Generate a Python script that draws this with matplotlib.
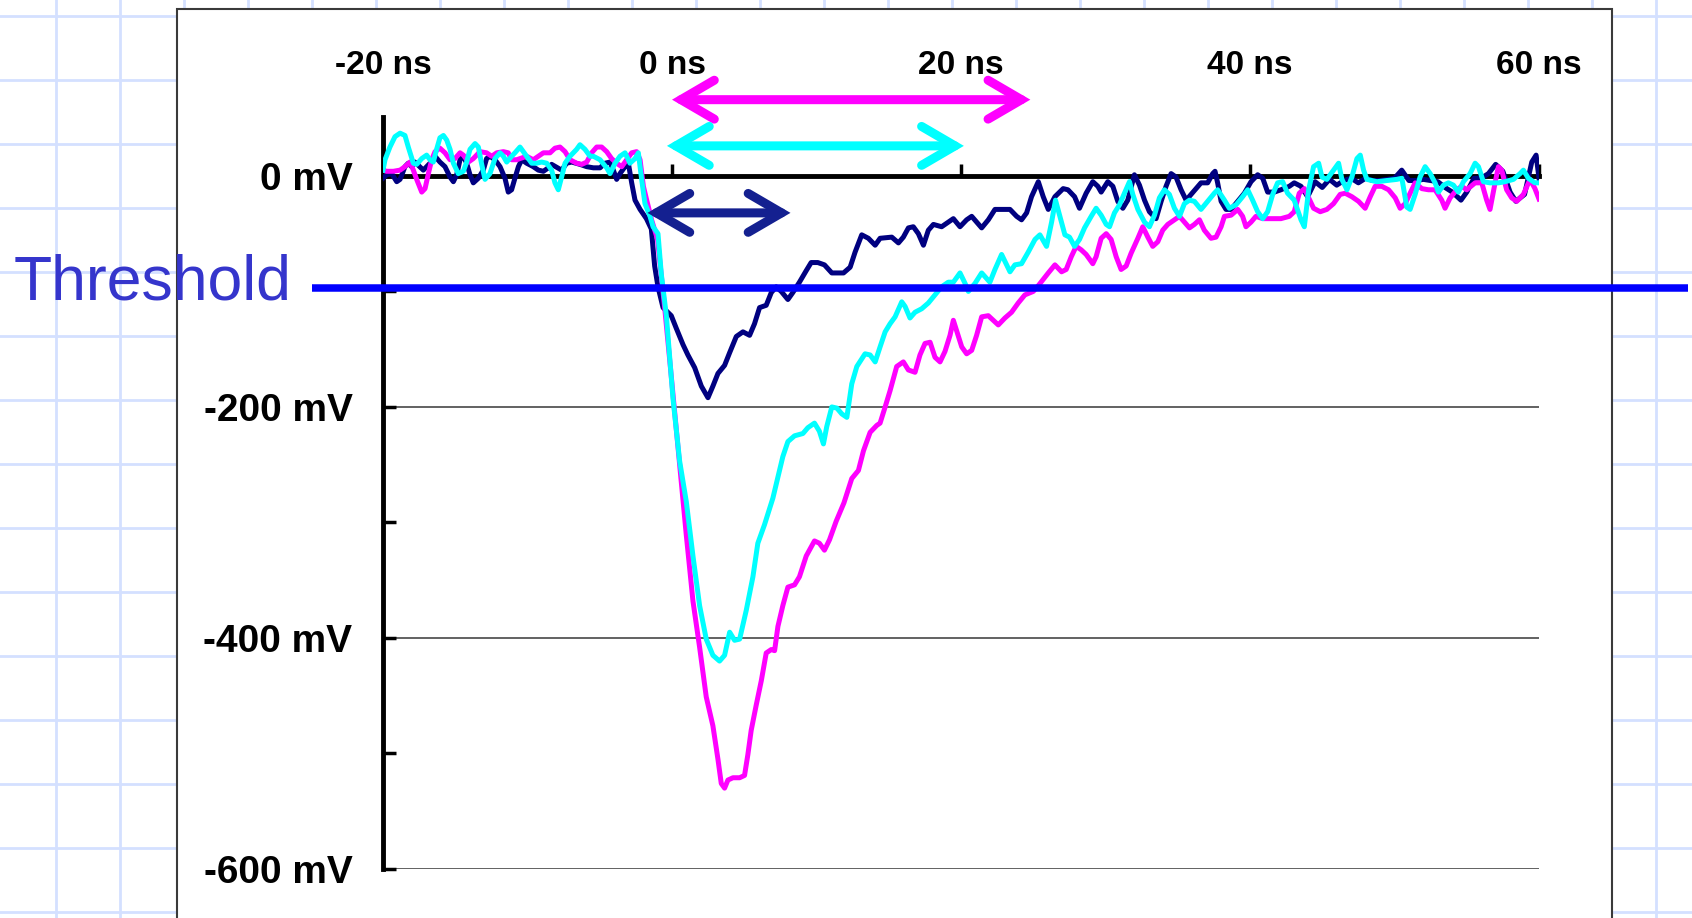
import matplotlib
matplotlib.use("Agg")
import matplotlib.pyplot as plt
from matplotlib.patches import Rectangle
import numpy as np

plt.rcParams["font.family"] = ["Liberation Sans", "DejaVu Sans"]

# ---- data (time in ns, amplitude in mV) ----
t_navy = [-20.0, -19.75, -19.4, -19.05, -18.82, -18.48, -18.25, -18.02, -17.79, -17.21,
          -16.75, -16.4, -16.06, -15.71, -15.36, -15.13, -14.9, -14.67, -14.44, -14.21,
          -13.98, -13.75, -13.4, -13.06, -12.83, -12.6, -12.25, -11.9, -11.56, -11.33,
          -11.1, -10.87, -10.63, -10.4, -10.06, -9.6, -9.25, -8.9, -8.56, -8.33,
          -7.64, -7.29, -6.94, -6.37, -5.9, -5.44, -4.98, -4.64, -4.29, -4.06,
          -3.83, -3.6, -3.25, -3.02, -2.79, -2.56, -2.21, -1.77, -1.43, -1.2,
          -0.97, -0.62, -0.05, 0.3, 0.76, 1.1, 1.57, 2.03, 2.49, 2.83,
          3.18, 3.64, 3.99, 4.45, 4.91, 5.37, 5.71, 6.06, 6.52, 6.87,
          7.21, 7.56, 8.02, 8.36, 8.82, 9.29, 9.63, 10.09, 10.55, 11.06,
          11.87, 12.33, 12.67, 13.13, 13.59, 14.06, 14.4, 15.21, 15.67, 16.01,
          16.36, 16.7, 17.05, 17.4, 17.74, 18.09, 18.66, 19.12, 19.47, 19.93,
          20.39, 20.74, 21.08, 21.43, 21.89, 22.35, 22.93, 23.39, 23.85, 24.19,
          24.54, 24.88, 25.35, 25.69, 26.04, 26.5, 27.07, 27.4, 27.86, 28.2,
          28.66, 29.12, 29.47, 29.7, 30.16, 30.51, 30.85, 31.2, 31.54, 32.0,
          32.35, 32.7, 33.04, 33.5, 33.85, 34.19, 34.54, 34.88, 35.23, 35.58,
          35.92, 36.27, 36.61, 37.07, 37.42, 37.58, 37.76, 38.0, 38.34, 38.69,
          39.15, 39.61, 40.07, 40.53, 40.88, 41.22, 41.68, 42.14, 42.72, 43.06,
          43.53, 43.99, 44.5, 45.0, 45.5, 46.0, 46.5, 47.0, 47.5, 48.0,
          48.5, 49.0, 49.5, 50.0, 50.5, 51.0, 51.5, 52.0, 52.5, 53.0,
          53.5, 54.0, 54.6, 55.0, 55.5, 56.0, 56.5, 57.0, 57.5, 58.0,
          58.4, 59.0, 59.5, 59.8, 60.0]
v_navy = [-2, 1, 2, -5, -3, 8, 11, 8, 12, 5,
          11, 17, 12, 8, -1, -5, 1, 14, 17, 11,
          1, -6, -2, 5, 15, 17, 14, 8, -2, -14,
          -12, -2, 8, 14, 11, 8, 5, 4, 7, 10,
          5, 11, 12, 10, 8, 7, 7, 11, 12, 5,
          -3, 2, 8, 11, -6, -21, -29, -37, -46, -78,
          -96, -114, -121, -132, -146, -155, -166, -182, -192, -182,
          -171, -164, -153, -139, -135, -138, -128, -114, -112, -101,
          -96, -100, -107, -101, -92, -82, -75, -75, -77, -84,
          -84, -79, -66, -51, -54, -60, -54, -53, -58, -53,
          -45, -44, -50, -60, -47, -42, -44, -40, -37, -44,
          -38, -35, -40, -45, -38, -29, -29, -29, -35, -38,
          -32, -18, -5, -18, -29, -18, -11, -12, -18, -28,
          -15, -5, -9, -14, -5, -9, -22, -28, -21, 1,
          -8, -21, -31, -37, -22, -9, 2, -1, -12, -21,
          -16, -11, -6, -6, 2, 4, -6, -22, -29, -29,
          -22, -15, -5, 1, -2, -14, -14, -12, -9, -6,
          -9, -18, -5, -10, -3, -8, -4, -2, -6, -2,
          -4, -4, -3, -2, 5, -4, -4, -3, -4, -5,
          -10, -14, -21, -14, -2, -2, 2, 10, 4, -14,
          -22, -16, 12, 18, -2]

t_magenta = [-20.0, -19.75, -19.28, -18.82, -18.48, -18.13, -17.9, -17.67, -17.32, -17.09,
             -16.86, -16.63, -16.4, -16.06, -15.71, -15.36, -15.02, -14.67, -14.44, -14.09,
             -13.75, -13.29, -12.83, -12.48, -12.13, -11.67, -11.33, -11.1, -10.75, -10.52,
             -10.06, -9.6, -9.25, -8.9, -8.44, -8.1, -7.75, -7.4, -7.06, -6.6,
             -6.25, -5.9, -5.56, -5.21, -4.87, -4.52, -4.18, -3.83, -3.48, -3.14,
             -2.79, -2.45, -2.21, -1.98, -1.75, -1.41, -1.0, -0.5, 0.0, 0.53,
             0.99, 1.45, 1.91, 2.37, 2.83, 3.18, 3.41, 3.64, 3.87, 4.22,
             4.68, 5.02, 5.25, 5.48, 5.83, 6.18, 6.52, 6.87, 7.1, 7.33,
             7.67, 8.02, 8.48, 8.82, 9.29, 9.86, 10.2, 10.55, 10.9, 11.36,
             11.9, 12.44, 12.9, 13.25, 13.71, 14.17, 14.4, 14.75, 15.09, 15.55,
             16.01, 16.36, 16.82, 17.16, 17.51, 17.86, 18.2, 18.55, 18.89, 19.24,
             19.47, 19.7, 20.05, 20.39, 20.74, 21.08, 21.43, 21.89, 22.58, 23.04,
             23.5, 23.96, 24.42, 25.0, 25.35, 26.04, 26.5, 26.96, 27.28, 27.63,
             27.97, 28.32, 28.66, 29.12, 29.35, 29.7, 30.05, 30.39, 30.74, 31.08,
             31.43, 31.77, 32.24, 32.58, 32.93, 33.27, 33.62, 33.96, 34.31, 34.77,
             35.12, 35.46, 35.81, 36.15, 36.5, 36.84, 37.3, 37.65, 38.0, 38.23,
             38.69, 39.15, 39.49, 39.72, 40.07, 40.41, 40.88, 41.45, 42.14, 42.72,
             43.06, 43.41, 43.76, 44.4, 44.86, 45.32, 45.78, 46.24, 46.59, 47.05,
             47.51, 47.97, 48.32, 48.66, 49.12, 49.59, 50.05, 50.39, 50.74, 51.08,
             51.43, 51.89, 52.35, 52.81, 53.27, 53.5, 53.85, 54.31, 54.65, 55.0,
             55.58, 56.04, 56.38, 56.61, 56.96, 57.19, 57.42, 57.76, 58.11, 58.46,
             58.92, 59.38, 59.72, 60.0]
v_magenta = [5, 4, 4, 5, 8, 12, 5, -3, -14, -11,
             2, 14, 21, 24, 20, 14, 15, 20, 18, 12,
             15, 21, 20, 17, 20, 21, 20, 14, 14, 15,
             17, 14, 17, 20, 20, 24, 25, 21, 14, 11,
             10, 12, 20, 25, 25, 21, 15, 11, 8, 14,
             20, 21, 14, -9, -21, -38, -55, -115, -180, -250,
             -311, -368, -408, -451, -476, -505, -526, -530, -523, -521,
             -521, -519, -501, -480, -458, -437, -413, -410, -411, -390,
             -372, -356, -354, -347, -329, -316, -318, -324, -315, -299,
             -283, -262, -255, -238, -222, -216, -214, -200, -186, -165,
             -161, -168, -170, -155, -145, -144, -157, -161, -152, -138,
             -125, -134, -148, -154, -151, -138, -122, -121, -129, -123,
             -118, -110, -103, -100, -95, -84, -77, -83, -81, -70,
             -61, -64, -68, -76, -70, -54, -50, -55, -70, -81,
             -78, -67, -54, -44, -53, -61, -57, -47, -42, -38,
             -35, -40, -45, -42, -38, -47, -54, -53, -44, -35,
             -34, -29, -35, -44, -40, -35, -37, -37, -37, -35,
             -31, -15, -11, -28, -31, -29, -24, -16, -15, -18,
             -22, -28, -18, -9, -9, -12, -19, -28, -24, -15,
             -6, -11, -12, -12, -21, -28, -19, -12, -9, -12,
             -6, -6, -21, -29, -6, 8, 5, -12, -19, -22,
             -16, -3, -11, -20]

t_cyan = [-20.0, -19.86, -19.52, -19.17, -18.82, -18.48, -18.25, -17.9, -17.67, -17.32,
          -16.98, -16.75, -16.52, -16.29, -16.06, -15.82, -15.59, -15.36, -15.13, -14.79,
          -14.44, -14.21, -13.98, -13.63, -13.4, -13.17, -12.94, -12.6, -12.25, -11.9,
          -11.67, -11.44, -11.1, -10.87, -10.52, -10.29, -10.06, -9.71, -9.37, -9.02,
          -8.67, -8.33, -8.1, -7.87, -7.64, -7.4, -7.06, -6.6, -6.37, -6.02,
          -5.67, -5.44, -4.98, -4.52, -4.29, -3.94, -3.6, -3.25, -2.91, -2.56,
          -2.33, -2.1, -1.87, -1.52, -1.31, -0.97, -0.74, -0.39, 0.07, 0.53,
          0.99, 1.45, 1.91, 2.37, 2.83, 3.29, 3.64, 3.99, 4.33, 4.68,
          5.14, 5.6, 5.94, 6.4, 6.98, 7.67, 8.02, 8.48, 9.06, 9.4,
          9.86, 10.2, 10.48, 10.71, 11.06, 11.41, 11.75, 12.1, 12.44, 12.79,
          13.36, 13.71, 14.06, 14.4, 14.75, 15.09, 15.44, 15.9, 16.13, 16.47,
          16.82, 17.28, 17.74, 18.2, 18.66, 19.12, 19.47, 19.93, 20.28, 20.51,
          20.97, 21.43, 22.0, 22.35, 22.81, 23.16, 23.39, 23.73, 24.19, 24.65,
          25.12, 25.46, 25.92, 26.27, 26.54, 26.84, 27.19, 27.51, 27.86, 28.2,
          28.55, 29.01, 29.35, 29.7, 30.05, 30.28, 30.62, 30.97, 31.31, 31.66,
          31.89, 32.24, 32.7, 33.04, 33.39, 33.73, 34.08, 34.42, 34.77, 35.12,
          35.46, 35.81, 36.15, 36.61, 37.07, 37.53, 37.76, 38.23, 38.57, 39.03,
          39.49, 39.84, 40.18, 40.53, 40.88, 41.22, 41.57, 41.91, 42.26, 42.6,
          43.06, 43.53, 43.76, 44.06, 44.4, 44.75, 44.98, 45.32, 45.78, 46.13,
          46.36, 46.71, 47.05, 47.4, 47.63, 47.86, 48.09, 48.78, 50.16, 50.51,
          50.85, 51.08, 51.43, 51.77, 52.12, 52.47, 52.81, 53.04, 53.39, 53.73,
          54.08, 54.42, 54.77, 55.23, 55.58, 55.81, 56.15, 56.61, 57.19, 57.65,
          58.23, 58.69, 58.92, 59.26, 59.72, 60.0]
v_cyan = [5, 14, 25, 34, 37, 35, 25, 11, 10, 15,
          18, 14, 12, 23, 33, 35, 31, 23, 11, 2,
          4, 12, 23, 28, 25, 10, -3, 2, 15, 20,
          17, 12, 17, 20, 25, 21, 17, 11, 11, 12,
          11, 5, -6, -12, -1, 11, 17, 23, 27, 23,
          17, 17, 14, 7, 2, 11, 17, 20, 11, 15,
          20, -3, -24, -35, -44, -50, -85, -121, -193, -247,
          -282, -329, -372, -401, -415, -420, -415, -395, -402, -401,
          -376, -347, -318, -302, -279, -243, -230, -225, -223, -218,
          -214, -221, -232, -217, -200, -201, -206, -209, -180, -165,
          -154, -155, -161, -148, -135, -128, -122, -109, -113, -123,
          -118, -115, -110, -103, -96, -92, -92, -84, -93, -100,
          -93, -84, -92, -81, -68, -77, -83, -77, -76, -66,
          -55, -51, -61, -40, -21, -35, -51, -53, -61, -55,
          -45, -35, -28, -34, -42, -44, -32, -25, -15, -5,
          -16, -29, -40, -44, -34, -19, -12, -16, -28, -35,
          -24, -21, -22, -29, -22, -15, -12, -21, -28, -25,
          -18, -12, -21, -31, -37, -31, -16, -6, -5, -15,
          -21, -38, -44, -12, 8, 11, -1, -3, 5, 11,
          -3, -12, -1, 15, 18, 5, -3, -5, -3, -2,
          -27, -29, -16, -1, 8, 2, -6, -14, -8, -6,
          -8, -14, -5, 2, 11, 8, -5, -6, -6, -5,
          -3, 2, 5, -2, -6, -6]

xticks = [-20, 0, 20, 40, 60]
xtick_labels = ["-20 ns", "0 ns", "20 ns", "40 ns", "60 ns"]
yticks = [0, -200, -400, -600]
ytick_labels = ["0 mV", "-200 mV", "-400 mV", "-600 mV"]
yticks_minor = [-100, -300, -500]
threshold = -97

# double arrows: (start ns, end ns, level mV)
arrow_magenta = (0.0, 24.8, 66)
arrow_cyan = (-0.35, 20.2, 26)
arrow_navy = (-1.7, 8.2, -32)

W, H = 1692, 918
fig = plt.figure(figsize=(W / 100, H / 100), dpi=100)

# slide background: light blue grid paper with a white panel on top
bg = fig.add_axes([0, 0, 1, 1], zorder=0)
bg.set_xlim(0, W)
bg.set_ylim(H, 0)
bg.axis("off")
for gx in np.arange(56, W, 64):
    bg.axvline(gx, color="#d4e0ff", lw=2, zorder=1)
for gy in np.arange(16, H, 64):
    bg.axhline(gy, color="#d4e0ff", lw=2, zorder=1)
bg.add_patch(Rectangle((177, 9), 1435, 960, facecolor="white",
                       edgecolor="#3a3a3a", lw=1.5, zorder=3))

# plot area in pixels: x -20..60 ns -> 383..1539, y +51..-600 mV -> 117..869
ax = fig.add_axes([383 / W, 1 - 869 / H, (1539 - 383) / W, (869 - 117) / H], zorder=1)
ax.patch.set_alpha(0)
ax.set_xlim(-20, 60)
ax.set_ylim(-600, 51)

ax.plot(t_navy, v_navy, color="#000080", lw=3.6, zorder=3, solid_joinstyle="round")
ax.plot(t_magenta, v_magenta, color="#ff00ff", lw=3.6, zorder=3, solid_joinstyle="round")
ax.plot(t_cyan, v_cyan, color="#00ffff", lw=3.6, zorder=3, solid_joinstyle="round")

for sp in ["top", "right"]:
    ax.spines[sp].set_visible(False)
ax.spines["bottom"].set_position(("data", 0))
ax.spines["bottom"].set_linewidth(3.5)
ax.spines["left"].set_linewidth(3.5)

ax.set_xticks(xticks)
ax.set_xticklabels(xtick_labels, fontsize=24, fontweight="bold")
ax.tick_params(axis="x", direction="in", length=9, width=2.5, top=False,
               labelbottom=False, labeltop=True, pad=26)
ax.set_yticks(yticks)
ax.set_yticklabels(ytick_labels, fontsize=28, fontweight="bold")
ax.set_yticks(yticks_minor, minor=True)
ax.tick_params(axis="y", which="both", direction="in", length=9, width=2.5, pad=22)
ax.grid(axis="y", which="major", color="#555555", lw=1.3)
ax.set_axisbelow(True)

# threshold line runs past both ends of the plot
ax.axhline(threshold, xmin=(312 - 383) / 1156, xmax=(1688 - 383) / 1156,
           color="#0000ff", lw=5.4, clip_on=False, zorder=5, solid_capstyle="butt")
fig.text(14 / W, 1 - 299 / H, "Threshold", color="#3535cc", fontsize=45,
         ha="left", va="baseline")

for (t0, t1, lvl), col in [(arrow_magenta, "#ff00ff"), (arrow_cyan, "#00ffff"),
                           (arrow_navy, "#142090")]:
    ax.annotate("", xy=(t1, lvl), xytext=(t0, lvl), annotation_clip=False, zorder=6,
                arrowprops=dict(arrowstyle="<->,head_length=1.2,head_width=0.7",
                                color=col, lw=6.5, shrinkA=0, shrinkB=0,
                                mutation_scale=20, capstyle="round", joinstyle="miter"))

fig.savefig("out.png", dpi=100)
